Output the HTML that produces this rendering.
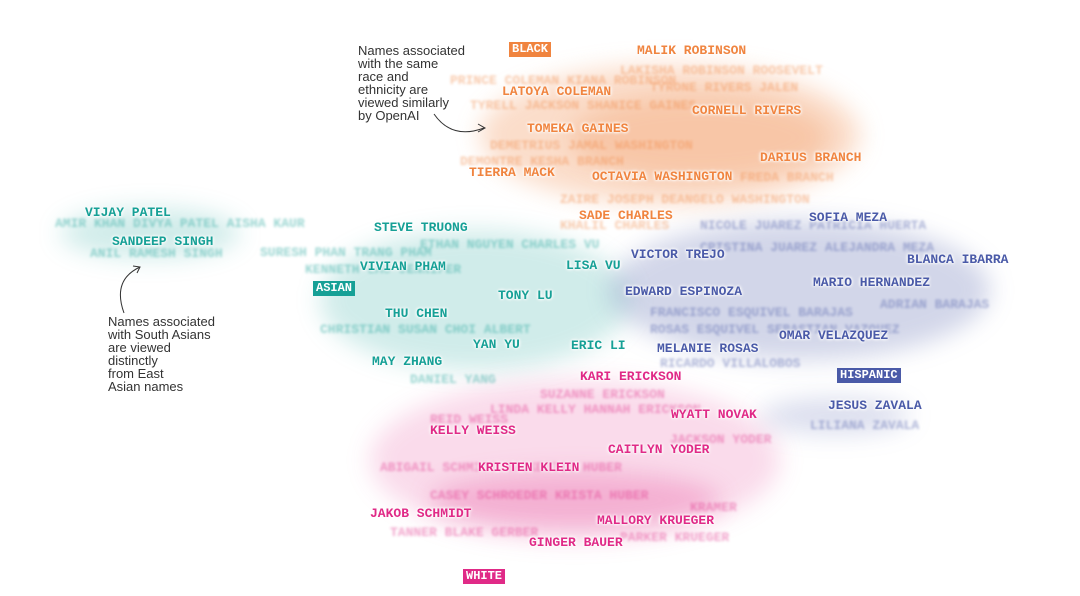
<!DOCTYPE html>
<html><head><meta charset="utf-8"><style>
body{margin:0;width:1080px;height:596px;background:#fff;position:relative;overflow:hidden;font-family:"Liberation Mono",monospace}
.c{position:absolute;border-radius:50%;filter:blur(12px)}
.f{position:absolute;font-weight:bold;font-size:13px;white-space:nowrap;filter:blur(1.4px);opacity:.42}
.l{position:absolute;font-weight:bold;font-size:13px;white-space:nowrap;text-shadow:0 0 2px #fff,0 0 3px #fff,0 0 4px #fff}
.o{color:#f0843f}.t{color:#16a096}.b{color:#4a5aa8}.p{color:#e02a87}
.tag{position:absolute;color:#fff;font-weight:bold;font-size:12px;padding:1px 3px;line-height:13px}
.n{position:absolute;font-family:"Liberation Sans",sans-serif;font-size:13px;line-height:13px;color:#333}
</style></head><body>
<div class="c" style="left:480px;top:65px;width:380px;height:140px;background:rgba(240,132,63,.28)"></div>
<div class="c" style="left:570px;top:95px;width:260px;height:85px;background:rgba(240,132,63,.25)"></div>
<div class="c" style="left:60px;top:208px;width:180px;height:50px;background:rgba(22,160,150,.2)"></div>
<div class="c" style="left:320px;top:230px;width:310px;height:140px;background:rgba(22,160,150,.2)"></div>
<div class="c" style="left:610px;top:220px;width:380px;height:140px;background:rgba(74,90,168,.25)"></div>
<div class="c" style="left:760px;top:398px;width:150px;height:36px;background:rgba(74,90,168,.2)"></div>
<div class="c" style="left:370px;top:380px;width:410px;height:160px;background:rgba(224,42,135,.17)"></div>
<div class="c" style="left:430px;top:472px;width:290px;height:56px;background:rgba(224,42,135,.24)"></div>
<div class="f o" style="left:450px;top:73px">PRINCE COLEMAN  KIANA ROBINSON</div>
<div class="f o" style="left:620px;top:63px">LAKISHA ROBINSON ROOSEVELT</div>
<div class="f o" style="left:470px;top:98px">TYRELL JACKSON  SHANICE GAINES</div>
<div class="f o" style="left:490px;top:138px">DEMETRIUS JAMAL WASHINGTON</div>
<div class="f o" style="left:460px;top:154px">DEMONTRE KESHA BRANCH</div>
<div class="f o" style="left:740px;top:170px">FREDA BRANCH</div>
<div class="f o" style="left:560px;top:192px">ZAIRE JOSEPH  DEANGELO WASHINGTON</div>
<div class="f o" style="left:560px;top:218px">KHALIL CHARLES</div>
<div class="f o" style="left:650px;top:80px">TYRONE RIVERS  JALEN</div>
<div class="f t" style="left:55px;top:216px">AMIR KHAN DIVYA PATEL AISHA KAUR</div>
<div class="f t" style="left:90px;top:246px">ANIL RAMESH SINGH</div>
<div class="f t" style="left:260px;top:245px">SURESH PHAN TRANG PHAM</div>
<div class="f t" style="left:305px;top:262px">KENNETH LAU JENNIFER</div>
<div class="f t" style="left:320px;top:322px">CHRISTIAN SUSAN CHOI ALBERT</div>
<div class="f t" style="left:410px;top:372px">DANIEL YANG</div>
<div class="f t" style="left:420px;top:237px">ETHAN NGUYEN  CHARLES VU</div>
<div class="f b" style="left:700px;top:218px">NICOLE JUAREZ PATRICIA HUERTA</div>
<div class="f b" style="left:700px;top:240px">CRISTINA JUAREZ  ALEJANDRA MEZA</div>
<div class="f b" style="left:650px;top:305px">FRANCISCO ESQUIVEL BARAJAS</div>
<div class="f b" style="left:650px;top:322px">ROSAS ESQUIVEL  SEBASTIAN VAZQUEZ</div>
<div class="f b" style="left:660px;top:356px">RICARDO VILLALOBOS</div>
<div class="f b" style="left:810px;top:418px">LILIANA ZAVALA</div>
<div class="f b" style="left:880px;top:297px">ADRIAN BARAJAS</div>
<div class="f p" style="left:540px;top:387px">SUZANNE ERICKSON</div>
<div class="f p" style="left:490px;top:402px">LINDA KELLY HANNAH ERICKSON</div>
<div class="f p" style="left:430px;top:412px">REID WEISS</div>
<div class="f p" style="left:670px;top:432px">JACKSON YODER</div>
<div class="f p" style="left:380px;top:460px">ABIGAIL SCHMIDT MACKENZIE HUBER</div>
<div class="f p" style="left:430px;top:488px">CASEY SCHROEDER  KRISTA HUBER</div>
<div class="f p" style="left:390px;top:525px">TANNER BLAKE GERBER</div>
<div class="f p" style="left:620px;top:530px">PARKER KRUEGER</div>
<div class="f p" style="left:690px;top:500px">KRAMER</div>
<div class="l o" style="left:637px;top:43px">MALIK ROBINSON</div>
<div class="l o" style="left:502px;top:84px">LATOYA COLEMAN</div>
<div class="l o" style="left:692px;top:103px">CORNELL RIVERS</div>
<div class="l o" style="left:527px;top:121px">TOMEKA GAINES</div>
<div class="l o" style="left:760px;top:150px">DARIUS BRANCH</div>
<div class="l o" style="left:469px;top:165px">TIERRA MACK</div>
<div class="l o" style="left:592px;top:169px">OCTAVIA WASHINGTON</div>
<div class="l o" style="left:579px;top:208px">SADE CHARLES</div>
<div class="l t" style="left:85px;top:205px">VIJAY PATEL</div>
<div class="l t" style="left:112px;top:234px">SANDEEP SINGH</div>
<div class="l t" style="left:374px;top:220px">STEVE TRUONG</div>
<div class="l t" style="left:360px;top:259px">VIVIAN PHAM</div>
<div class="l t" style="left:566px;top:258px">LISA VU</div>
<div class="l t" style="left:498px;top:288px">TONY LU</div>
<div class="l t" style="left:385px;top:306px">THU CHEN</div>
<div class="l t" style="left:473px;top:337px">YAN YU</div>
<div class="l t" style="left:571px;top:338px">ERIC LI</div>
<div class="l t" style="left:372px;top:354px">MAY ZHANG</div>
<div class="l b" style="left:809px;top:210px">SOFIA MEZA</div>
<div class="l b" style="left:631px;top:247px">VICTOR TREJO</div>
<div class="l b" style="left:907px;top:252px">BLANCA IBARRA</div>
<div class="l b" style="left:625px;top:284px">EDWARD ESPINOZA</div>
<div class="l b" style="left:813px;top:275px">MARIO HERNANDEZ</div>
<div class="l b" style="left:779px;top:328px">OMAR VELAZQUEZ</div>
<div class="l b" style="left:657px;top:341px">MELANIE ROSAS</div>
<div class="l b" style="left:828px;top:398px">JESUS ZAVALA</div>
<div class="l p" style="left:580px;top:369px">KARI ERICKSON</div>
<div class="l p" style="left:671px;top:407px">WYATT NOVAK</div>
<div class="l p" style="left:430px;top:423px">KELLY WEISS</div>
<div class="l p" style="left:608px;top:442px">CAITLYN YODER</div>
<div class="l p" style="left:478px;top:460px">KRISTEN KLEIN</div>
<div class="l p" style="left:370px;top:506px">JAKOB SCHMIDT</div>
<div class="l p" style="left:597px;top:513px">MALLORY KRUEGER</div>
<div class="l p" style="left:529px;top:535px">GINGER BAUER</div>
<div class="tag" style="left:509px;top:42px;background:#f0843f">BLACK</div>
<div class="tag" style="left:313px;top:281px;background:#16a096">ASIAN</div>
<div class="tag" style="left:837px;top:368px;background:#4a5aa8">HISPANIC</div>
<div class="tag" style="left:463px;top:569px;background:#e02a87">WHITE</div>
<div class="n" style="left:358px;top:44px">Names associated<br>with the same<br>race and<br>ethnicity are<br>viewed similarly<br>by OpenAI</div>
<div class="n" style="left:108px;top:315px">Names associated<br>with South Asians<br>are viewed<br>distinctly<br>from East<br>Asian names</div>
<svg style="position:absolute;left:0;top:0" width="1080" height="596">
<path d="M434 114 Q452 140 484 128" fill="none" stroke="#333" stroke-width="1"/>
<path d="M478 124 L485 128 L478 132" fill="none" stroke="#333" stroke-width="1"/>
<path d="M124 313 Q112 280 140 267" fill="none" stroke="#333" stroke-width="1"/>
<path d="M133 266 L140 267 L137 273" fill="none" stroke="#333" stroke-width="1"/>
</svg>
</body></html>
